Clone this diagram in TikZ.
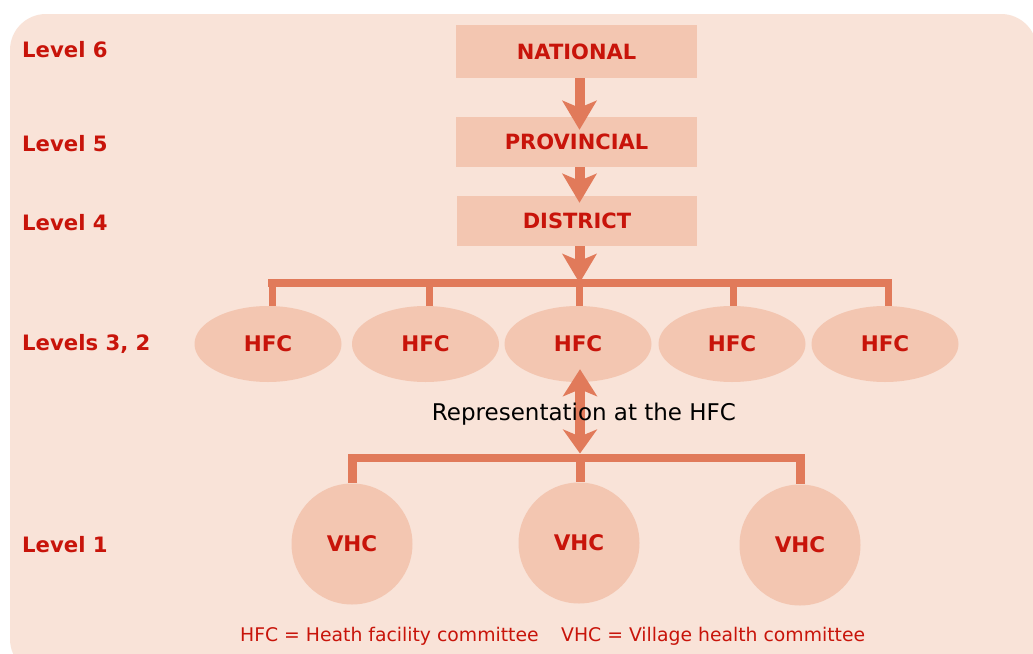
\documentclass[tikz,border=0pt]{standalone}
\usepackage{fontspec}
\setmainfont{DejaVu Sans}
\usetikzlibrary{arrows.meta,shapes.geometric}
\definecolor{bgc}{HTML}{F9E3D8}
\definecolor{boxc}{HTML}{F3C6B1}
\definecolor{linec}{HTML}{E17A5A}
\definecolor{redt}{HTML}{C8140A}
\begin{document}
\begin{tikzpicture}[x=1pt,y=-1pt,
  lbl/.style={font=\bfseries\fontsize{21.2}{25}\selectfont, text=redt, anchor=base west, inner sep=0pt},
  boxn/.style={fill=boxc, minimum width=241pt, minimum height=50pt, inner sep=0pt, font=\bfseries\fontsize{21}{25}\selectfont, text=redt},
  hfc/.style={ellipse, fill=boxc, minimum width=147pt, minimum height=76pt, inner sep=0pt, font=\bfseries\fontsize{21.5}{25}\selectfont, text=redt},
  vhc/.style={circle, fill=boxc, minimum size=121pt, inner sep=0pt, font=\bfseries\fontsize{21.5}{25}\selectfont, text=redt},
  conn/.style={draw=linec, line width=8pt},
  drop/.style={draw=linec, line width=7pt},
  arr/.style={draw=linec, line width=10pt, -{Stealth[length=29pt,width=34pt,inset=7pt]}},
  darr/.style={draw=linec, line width=10pt, {Stealth[length=27pt,width=34pt,inset=7pt]}-{Stealth[length=24pt,width=34pt,inset=7pt]}},
  note/.style={font=\fontsize{18.8}{23}\selectfont, text=redt, anchor=base west, inner sep=0pt}
]
\useasboundingbox[fill=white] (0,0) rectangle (1033,653);
\fill[bgc, rounded corners=36pt] (10,14) rectangle (1037,675);

% level labels
\node[lbl] (l6) at (22,57.5) {Level 6};
\node[lbl] (l5) at (22,151.5) {Level 5};
\node[lbl] (l4) at (22,230.5) {Level 4};
\node[lbl] (l32) at (22,350.5) {Levels 3, 2};
\node[lbl] (l1) at (22,552.5) {Level 1};

% boxes
\node[boxn, minimum height=53pt] (nat) at (576.5,51.5) {NATIONAL};
\node[boxn] (prov) at (576.5,142) {PROVINCIAL};
\node[boxn, minimum width=240pt] (dist) at (577,221) {DISTRICT};

% HFC ellipses
\node[hfc] (h1) at (268,344) {HFC};
\node[hfc] (h2) at (425.5,344) {HFC};
\node[hfc] (h3) at (578,344) {HFC};
\node[hfc] (h4) at (732,344) {HFC};
\node[hfc] (h5) at (885,344) {HFC};

% VHC circles
\node[vhc] (v1) at (352,544) {VHC};
\node[vhc] (v2) at (579,543) {VHC};
\node[vhc] (v3) at (800,545) {VHC};

% shaft reference
\coordinate (s) at (579.5,0);

% upper bar
\coordinate (b1) at (272,283);
\coordinate (b2) at (429,283);
\coordinate (b3) at (579.5,283);
\coordinate (b4) at (733.5,283);
\coordinate (b5) at (888,283);
\draw[conn, line cap=rect] (b1) -- (b5);
\foreach \b/\h in {b1/h1,b2/h2,b3/h3,b4/h4,b5/h5}
  \draw[drop] ([yshift=-2pt]\b) -- (\b |- \h.north);

% lower bar
\coordinate (c1) at (352,457.5);
\coordinate (c2) at (580,457.5);
\coordinate (c3) at (800.5,457.5);
\draw[conn, line cap=rect] (c1) -- (c3);
\foreach \c/\v in {c1/v1,c2/v2,c3/v3}
  \draw[drop, line width=9pt] ([yshift=-2pt]\c) -- (\c |- \v.north);

% vertical arrows
\draw[arr, shorten >=-13pt] (nat.south -| s) -- (prov.north -| s);
\draw[arr, shorten >=-7pt] (prov.south -| s) -- (dist.north -| s);
\draw[arr] (dist.south -| s) -- (b3);
\draw[darr, shorten <=-13pt, shorten >=4pt] (h3.south -| c2) -- (c2);

\node[font=\fontsize{23}{27}\selectfont, text=black, inner sep=0pt] (rep) at (584,414) {Representation at the HFC};

\node[note] (n1) at (240,641) {HFC = Heath facility committee};
\node[note] (n2) at (561,641) {VHC = Village health committee};
\end{tikzpicture}
\end{document}
